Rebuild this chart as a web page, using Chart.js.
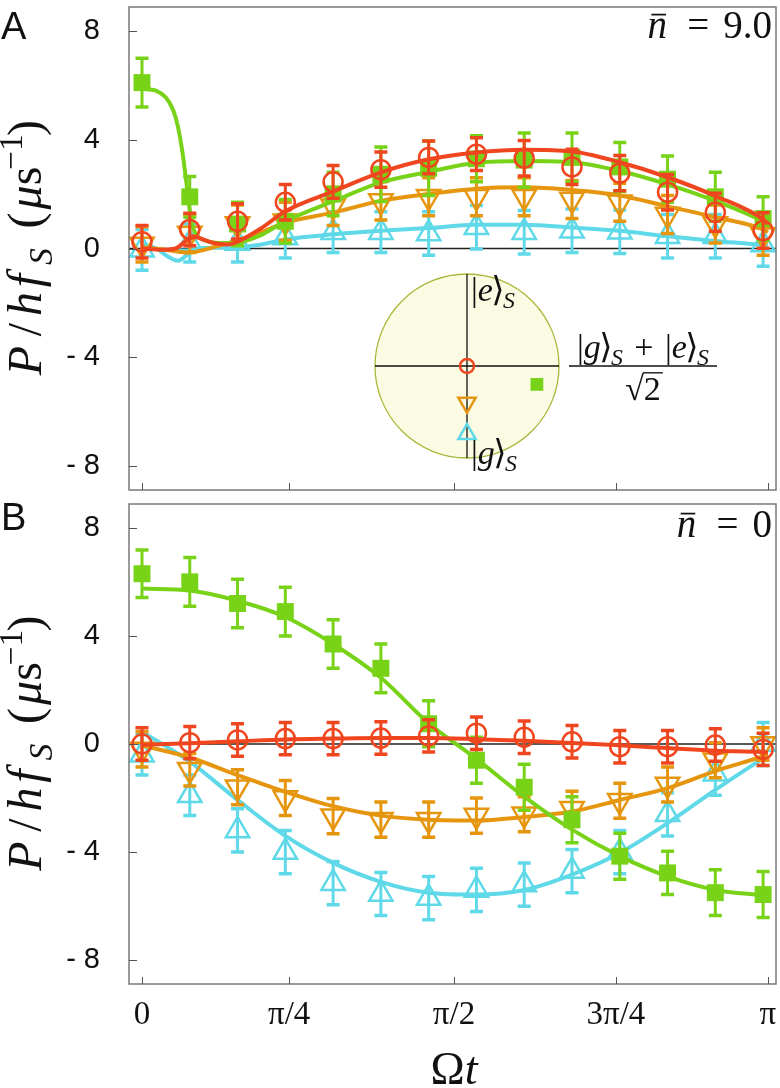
<!DOCTYPE html>
<html>
<head>
<meta charset="utf-8">
<script src="https://cdn.jsdelivr.net/npm/chart.js@4.4.1/dist/chart.umd.min.js"></script>
<style>
  html, body { margin: 0; padding: 0; background: #fff; }
  #wrap { position: relative; width: 780px; height: 1088px; overflow: hidden; }
  canvas { position: absolute; }
</style>
</head>
<body>
<div id="wrap">
  <canvas id="panelA" width="780" height="500" style="left:0;top:0"></canvas>
  <canvas id="panelB" width="780" height="588" style="left:0;top:500px"></canvas>
  <canvas id="inset" width="370" height="228" style="left:360px;top:260px"></canvas>
</div>
<script>
// measured points (index of the time step) and axis ticks
const pointX = [0, 1, 2, 3, 4, 5, 6, 7, 8, 9, 10, 11, 12, 13];
const xTickPos = [0, 3.08, 6.53, 9.92, 13.1];
const xTickLabels = ['0', 'π/4', 'π/2', '3π/4', 'π'];
const yTicks = [-8, -4, 0, 4, 8];

// panel A, n = 9.0
const aGreen = [6.1, 1.9, 0.9, 1.0, 2.0, 2.73, 2.95, 3.3, 3.25, 3.35, 3.0, 2.55, 1.9, 1.1];
const aGreenErr = [0.9, 0.75, 0.8, 0.8, 0.8, 1.0, 1.0, 0.85, 1.0, 0.9, 0.9, 0.85, 0.9, 0.8];
const aRed = [0.25, 0.7, 1.0, 1.7, 2.45, 2.9, 3.35, 3.47, 3.32, 3.0, 2.77, 2.07, 1.33, 0.66];
const aRedErr = [0.6, 0.6, 0.65, 0.65, 0.6, 0.65, 0.6, 0.6, 0.65, 0.65, 0.65, 0.65, 0.7, 0.65];
const aOrange = [0.15, 0.55, 0.9, 1.0, 1.55, 1.75, 1.9, 1.9, 1.9, 1.8, 1.7, 1.25, 0.9, 0.5];
const aOrangeErr = [0.65, 0.7, 0.7, 0.7, 0.7, 0.7, 0.7, 0.7, 0.7, 0.7, 0.7, 0.7, 0.7, 0.75];
const aCyan = [-0.05, 0.2, 0.2, 0.4, 0.6, 0.6, 0.55, 0.78, 0.6, 0.65, 0.62, 0.45, 0.45, 0.15];
const aCyanErr = [0.75, 0.7, 0.7, 0.75, 0.75, 0.75, 0.8, 0.8, 0.8, 0.8, 0.8, 0.8, 0.8, 0.8];

const aGreenFitX = [0, 0.3, 0.5, 0.65, 0.75, 0.85, 0.93, 1.0, 1.08, 1.2, 1.4, 1.7, 2, 2.5, 3, 4, 5, 6, 7, 8, 9, 10, 11, 12, 13, 13.1];
const aGreenFit = [5.87, 5.8, 5.55, 5.1, 4.5, 3.5, 2.4, 1.4, 0.7, 0.4, 0.25, 0.2, 0.22, 0.5, 1.0, 1.73, 2.43, 2.82, 3.15, 3.22, 3.17, 2.85, 2.36, 1.75, 1.0, 0.9];
const aRedFitX = [0, 0.4, 0.7, 0.9, 1.05, 1.25, 1.5, 1.8, 2, 2.5, 3, 4, 5, 6, 7, 8, 9, 10, 11, 12, 13, 13.1];
const aRedFit = [0, -0.05, 0.0, 0.25, 0.45, 0.35, 0.2, 0.15, 0.25, 0.75, 1.37, 2.1, 2.8, 3.28, 3.53, 3.63, 3.57, 3.17, 2.62, 1.93, 1.07, 0.9];
const aOrangeFitX = [0, 0.5, 1, 1.3, 1.6, 2, 2.5, 3, 4, 5, 6, 7, 8, 9, 10, 11, 12, 13, 13.1];
const aOrangeFit = [0.05, -0.05, -0.15, -0.05, 0.1, 0.3, 0.6, 0.95, 1.32, 1.75, 2.0, 2.2, 2.25, 2.15, 1.95, 1.55, 1.15, 0.7, 0.6];
const aCyanFitX = [0, 0.3, 0.55, 0.75, 0.9, 1.05, 1.3, 2, 2.5, 3, 4, 5, 6, 7, 8, 9, 10, 11, 12, 13, 13.1];
const aCyanFit = [0.15, 0.0, -0.3, -0.45, -0.3, -0.05, 0.02, 0.05, 0.15, 0.33, 0.52, 0.65, 0.75, 0.87, 0.87, 0.77, 0.65, 0.45, 0.28, 0.12, 0.1];

// panel B, n = 0
const bGreen = [6.3, 6.0, 5.2, 4.9, 3.7, 2.8, 0.75, -0.6, -1.6, -2.8, -4.15, -4.77, -5.5, -5.57];
const bGreenErr = [0.88, 0.9, 0.9, 0.9, 0.9, 0.9, 0.85, 0.85, 0.85, 0.85, 0.85, 0.8, 0.85, 0.85];
const bRed = [0, 0.05, 0.15, 0.2, 0.2, 0.22, 0.3, 0.4, 0.25, 0.08, -0.1, -0.1, -0.04, -0.2];
const bRedErr = [0.6, 0.6, 0.6, 0.6, 0.6, 0.6, 0.6, 0.6, 0.6, 0.6, 0.6, 0.6, 0.6, 0.6];
const bOrange = [-0.2, -0.95, -1.6, -2.0, -2.67, -2.8, -2.8, -2.65, -2.6, -2.4, -2.1, -1.5, -0.6, 0.0];
const bOrangeErr = [0.65, 0.6, 0.65, 0.65, 0.65, 0.65, 0.65, 0.65, 0.65, 0.65, 0.65, 0.65, 0.65, 0.6];
const bCyan = [-0.4, -1.9, -3.2, -4.0, -5.15, -5.55, -5.7, -5.4, -5.2, -4.7, -4.0, -2.6, -1.1, 0.0];
const bCyanErr = [0.75, 0.75, 0.8, 0.8, 0.8, 0.8, 0.8, 0.8, 0.8, 0.8, 0.8, 0.8, 0.8, 0.8];

const bFitX = [0, 1, 2, 3, 4, 5, 6, 7, 8, 9, 10, 11, 12, 13, 13.1];
const bGreenFit = [5.75, 5.68, 5.3, 4.7, 3.7, 2.45, 0.77, -0.55, -1.95, -3.17, -4.15, -4.9, -5.4, -5.6, -5.62];
const bRedFit = [-0.03, 0.03, 0.1, 0.17, 0.2, 0.22, 0.22, 0.18, 0.12, 0.04, -0.05, -0.15, -0.25, -0.3, -0.32];
const bOrangeFit = [-0.05, -0.5, -1.15, -1.77, -2.3, -2.65, -2.8, -2.83, -2.7, -2.5, -2.07, -1.63, -1.0, -0.45, -0.38];
const bCyanFit = [0.45, -0.65, -2.07, -3.4, -4.4, -5.1, -5.5, -5.57, -5.4, -4.83, -4.03, -2.93, -1.7, -0.52, -0.4];

// inset: state positions (red, green, orange, cyan)
const insetX = [0, 0.76, 0, 0];
const insetY = [0, -0.2, -0.4, -0.74];

const GREEN = '#78d318';
const RED = '#f0461f';
const ORANGE = '#e6960e';
const CYAN = '#5fd9e8';

const X_MIN = -0.272, X_MAX = 13.27;
const Y_MIN = -8.88, Y_MAX = 8.88;
const SERIF = '"Liberation Serif", "DejaVu Serif", serif';

function pts(xs, ys) { return xs.map((x, i) => ({ x, y: ys[i] })); }

function markers(color, style, ys, errs, filled, radius, rot) {
    return {
        data: pts(pointX, ys),
        showLine: false,
        pointStyle: style,
        pointRadius: radius,
        pointRotation: rot || 0,
        pointBorderColor: color,
        pointBackgroundColor: filled ? color : 'rgba(0,0,0,0)',
        pointBorderWidth: filled ? 0 : 2.5,
        errorBars: errs,
        clip: false,
    };
}

function fit(color, xs, ys) {
    return {
        data: pts(xs, ys),
        borderColor: color,
        borderWidth: 4,
        pointRadius: 0,
        cubicInterpolationMode: 'monotone',
        fill: false,
    };
}

// draws text with italic / sub / sup parts, like the math labels.
// adv = width of the slot for a part (glyph centered in it)
function mathText(ctx, parts, x, y, size, align) {
    let w = 0;
    const items = parts.map(p => {
        const s = (p.sub || p.sup) ? size * 0.7 : size;
        const font = (p.it ? 'italic ' : '') + s + 'px ' + SERIF;
        ctx.font = font;
        const tw = ctx.measureText(p.t).width;
        const slot = p.adv != null ? p.adv : tw;
        const it = { p, font, tw, dx: w + (slot - tw) / 2 };
        w += slot;
        return it;
    });
    const x0 = align === 'center' ? x - w / 2 : align === 'right' ? x - w : x;
    ctx.textAlign = 'left';
    ctx.textBaseline = 'alphabetic';
    items.forEach(it => {
        ctx.font = it.font;
        const dy = it.p.sub ? size * 0.22 : it.p.sup ? -size * 0.4 : 0;
        ctx.fillText(it.p.t, x0 + it.dx, y + dy);
        if (it.p.bar) {
            ctx.save();
            ctx.lineWidth = size * 0.045;
            ctx.strokeStyle = ctx.fillStyle;
            ctx.beginPath();
            ctx.moveTo(x0 + it.dx + it.tw * 0.2, y - size * 0.6);
            ctx.lineTo(x0 + it.dx + it.tw * 0.95, y - size * 0.6);
            ctx.stroke();
            ctx.restore();
        }
        if (it.p.root) {
            ctx.save();
            ctx.lineWidth = size * 0.04;
            ctx.strokeStyle = ctx.fillStyle;
            ctx.beginPath();
            ctx.moveTo(x0 + it.dx - 1, y - size * 0.8);
            ctx.lineTo(x0 + it.dx + it.tw + 2, y - size * 0.8);
            ctx.stroke();
            ctx.restore();
        }
    });
    return w;
}

const yTitleParts = [
    { t: 'P', it: true, adv: 35 }, { t: '/', adv: 27 }, { t: 'h', it: true, adv: 24 },
    { t: 'f', it: true, adv: 23 }, { t: 'S', it: true, sub: true, adv: 25 }, { t: '', adv: 13 },
    { t: '(', adv: 21 }, { t: 'μ', it: true, adv: 25 }, { t: 's', adv: 18 },
    { t: '−1', sup: true, adv: 30 }, { t: ')', adv: 18 }
];

function ket(s, size) {
    return [{ t: '|', adv: size * 0.2 }, { t: s, it: true }, { t: '⟩', adv: size * 0.3 },
            { t: 'S', it: true, sub: true }];
}

const errorBarPlugin = {
    id: 'errorBars',
    beforeDatasetDraw(chart, args) {
        const ds = chart.data.datasets[args.index];
        if (!ds.errorBars) return;
        const xs = chart.scales.x, ys = chart.scales.y, ctx = chart.ctx;
        ctx.save();
        ctx.strokeStyle = ds.pointBorderColor;
        ds.data.forEach((p, i) => {
            const e = ds.errorBars[i];
            const px = xs.getPixelForValue(p.x);
            const top = ys.getPixelForValue(p.y + e);
            const bot = ys.getPixelForValue(p.y - e);
            ctx.lineWidth = 3;
            ctx.beginPath();
            ctx.moveTo(px, top); ctx.lineTo(px, bot);
            ctx.stroke();
            ctx.lineWidth = 3.5;
            ctx.beginPath();
            ctx.moveTo(px - 6.5, top); ctx.lineTo(px + 6.5, top);
            ctx.moveTo(px - 6.5, bot); ctx.lineTo(px + 6.5, bot);
            ctx.stroke();
        });
        ctx.restore();
    }
};

function framePlugin(letter, letterY, nValue, nY, withXTitle) {
    return {
        id: 'frame',
        beforeDatasetsDraw(chart) {
            const { ctx, chartArea: a } = chart;
            const y0 = chart.scales.y.getPixelForValue(0);
            ctx.save();
            ctx.strokeStyle = '#222';
            ctx.lineWidth = 1.5;
            ctx.beginPath();
            ctx.moveTo(a.left, y0); ctx.lineTo(a.right, y0);
            ctx.stroke();
            ctx.restore();
        },
        afterDraw(chart) {
            const { ctx, chartArea: a } = chart;
            const xs = chart.scales.x, ys = chart.scales.y;
            ctx.save();
            ctx.strokeStyle = '#7a7a7a';
            ctx.lineWidth = 1.5;
            ctx.strokeRect(a.left, a.top, a.right - a.left, a.bottom - a.top);
            ctx.lineWidth = 1;
            ctx.strokeStyle = '#555';
            ctx.beginPath();
            yTicks.forEach(v => {
                const py = Math.round(ys.getPixelForValue(v)) + 0.5;
                ctx.moveTo(a.left, py); ctx.lineTo(a.left + 8, py);
            });
            xTickPos.forEach(v => {
                const px = Math.round(xs.getPixelForValue(v)) + 0.5;
                ctx.moveTo(px, a.bottom); ctx.lineTo(px, a.bottom - 7);
            });
            ctx.stroke();

            ctx.fillStyle = '#111';
            ctx.font = '38px "Liberation Sans", Arial, sans-serif';
            ctx.textAlign = 'left';
            ctx.textBaseline = 'alphabetic';
            ctx.fillText(letter, 1, letterY);

            mathText(ctx, [{ t: 'n', it: true, bar: true, adv: 32 }, { t: '=', adv: 50 }, { t: nValue }],
                     772, nY, 39, 'right');

            ctx.save();
            ctx.translate(28, (a.top + a.bottom) / 2);
            ctx.rotate(-Math.PI / 2);
            mathText(ctx, yTitleParts, 0, 13, 48, 'center');
            ctx.restore();

            if (withXTitle) {
                mathText(ctx, [{ t: 'Ω' }, { t: 't', it: true }], 454, 584, 46, 'center');
            }
            ctx.restore();
        }
    };
}

function panelOptions(showX) {
    const xAfterFit = s => {
        if (showX) s.height = 90;
        s.paddingLeft = 0; s.paddingRight = 0; s.paddingTop = 0; s.paddingBottom = 0;
    };
    return {
        responsive: false,
        animation: false,
        events: [],
        layout: {
            autoPadding: false,
            padding: showX ? { top: 4, right: 4, bottom: 14, left: 0 }
                           : { top: 7, right: 4, bottom: 10, left: 0 }
        },
        plugins: { legend: { display: false }, tooltip: { enabled: false } },
        scales: {
            x: {
                type: 'linear', min: X_MIN, max: X_MAX, display: showX,
                grid: { display: false, drawTicks: false },
                border: { display: false },
                afterBuildTicks: s => { s.ticks = xTickPos.map(v => ({ value: v })); },
                afterFit: xAfterFit,
                ticks: {
                    autoSkip: false, maxRotation: 0, padding: 12, color: '#111',
                    font: { family: SERIF, size: 33 },
                    callback: (v, i) => xTickLabels[i]
                }
            },
            y: {
                type: 'linear', min: Y_MIN, max: Y_MAX,
                grid: { display: false, drawTicks: false },
                border: { display: false },
                afterBuildTicks: s => { s.ticks = yTicks.map(v => ({ value: v })); },
                afterFit: s => {
                    s.width = 129;
                    s.paddingTop = 0; s.paddingBottom = 0; s.paddingLeft = 0; s.paddingRight = 0;
                },
                ticks: {
                    padding: 29, color: '#111',
                    font: { family: '"Liberation Sans", Arial, sans-serif', size: 29, lineHeight: 0.2 },
                    callback: v => v < 0 ? '- ' + Math.abs(v) : String(v)
                }
            }
        }
    };
}

// panel A
new Chart(document.getElementById('panelA'), {
    type: 'line',
    data: {
        datasets: [
            markers(RED, 'circle', aRed, aRedErr, false, 9.5),
            fit(RED, aRedFitX, aRedFit),
            markers(GREEN, 'rect', aGreen, aGreenErr, true, 12),
            fit(GREEN, aGreenFitX, aGreenFit),
            markers(ORANGE, 'triangle', aOrange, aOrangeErr, false, 13.5, 180),
            fit(ORANGE, aOrangeFitX, aOrangeFit),
            markers(CYAN, 'triangle', aCyan, aCyanErr, false, 13.5),
            fit(CYAN, aCyanFitX, aCyanFit),
        ]
    },
    options: panelOptions(false),
    plugins: [errorBarPlugin, framePlugin('A', 39, '9.0', 38, false)]
});

// panel B
new Chart(document.getElementById('panelB'), {
    type: 'line',
    data: {
        datasets: [
            markers(RED, 'circle', bRed, bRedErr, false, 9.5),
            fit(RED, bFitX, bRedFit),
            markers(GREEN, 'rect', bGreen, bGreenErr, true, 12),
            fit(GREEN, bFitX, bGreenFit),
            markers(ORANGE, 'triangle', bOrange, bOrangeErr, false, 13.5, 180),
            fit(ORANGE, bFitX, bOrangeFit),
            markers(CYAN, 'triangle', bCyan, bCyanErr, false, 13.5),
            fit(CYAN, bFitX, bCyanFit),
        ]
    },
    options: panelOptions(true),
    plugins: [errorBarPlugin, framePlugin('B', 30, '0', 37, true)]
});

// inset with the state picture
const insetPlugin = {
    id: 'insetCircle',
    beforeDatasetsDraw(chart) {
        const ctx = chart.ctx, xs = chart.scales.x, ys = chart.scales.y;
        const cx = xs.getPixelForValue(0), cy = ys.getPixelForValue(0);
        const r = xs.getPixelForValue(1) - cx;
        ctx.save();
        ctx.beginPath();
        ctx.arc(cx, cy, r, 0, Math.PI * 2);
        ctx.fillStyle = '#fbfbe3';
        ctx.fill();
        ctx.strokeStyle = '#aab83a';
        ctx.lineWidth = 1.3;
        ctx.stroke();
        ctx.strokeStyle = '#111';
        ctx.lineWidth = 1.3;
        ctx.beginPath();
        ctx.moveTo(cx - r, cy); ctx.lineTo(cx + r, cy);
        ctx.moveTo(cx, cy - r); ctx.lineTo(cx, cy + r);
        ctx.stroke();
        ctx.restore();
    },
    afterDraw(chart) {
        const ctx = chart.ctx, xs = chart.scales.x, ys = chart.scales.y;
        const cy = ys.getPixelForValue(0);
        const cx = xs.getPixelForValue(0);
        const fx = xs.getPixelForValue(1) + 10;
        ctx.save();
        ctx.fillStyle = '#111';
        mathText(ctx, ket('e', 34), cx + 4, ys.getPixelForValue(1) + 27, 34, 'left');
        mathText(ctx, ket('g', 34), cx + 4, ys.getPixelForValue(-1) + 6, 34, 'left');
        const num = ket('g', 34).concat([{ t: '+', adv: 42 }], ket('e', 34));
        mathText(ctx, num, fx + 74, cy - 8, 34, 'center');
        ctx.strokeStyle = '#111';
        ctx.lineWidth = 1.4;
        ctx.beginPath();
        ctx.moveTo(fx, cy); ctx.lineTo(fx + 148, cy);
        ctx.stroke();
        ctx.font = '34px ' + SERIF;
        const rw = ctx.measureText('√').width;
        const tw = ctx.measureText('2').width;
        const sx = fx + 74 - (rw + tw) / 2;
        ctx.fillText('√', sx, cy + 34);
        mathText(ctx, [{ t: '2', root: true }], sx + rw, cy + 34, 34, 'left');
        ctx.restore();
    }
};

new Chart(document.getElementById('inset'), {
    type: 'scatter',
    data: {
        datasets: [
            { data: [{ x: insetX[0], y: insetY[0] }], pointStyle: 'circle', pointRadius: 7, pointBorderColor: RED, pointBackgroundColor: 'rgba(0,0,0,0)', pointBorderWidth: 2.5, clip: false },
            { data: [{ x: insetX[1], y: insetY[1] }], pointStyle: 'rect', pointRadius: 9, pointBorderColor: GREEN, pointBackgroundColor: GREEN, pointBorderWidth: 0, clip: false },
            { data: [{ x: insetX[2], y: insetY[2] }], pointStyle: 'triangle', pointRotation: 180, pointRadius: 10, pointBorderColor: ORANGE, pointBackgroundColor: 'rgba(0,0,0,0)', pointBorderWidth: 2.5, clip: false },
            { data: [{ x: insetX[3], y: insetY[3] }], pointStyle: 'triangle', pointRadius: 10, pointBorderColor: CYAN, pointBackgroundColor: 'rgba(0,0,0,0)', pointBorderWidth: 2.5, clip: false },
        ]
    },
    options: {
        responsive: false,
        animation: false,
        events: [],
        layout: { autoPadding: false, padding: { left: 15, top: 14, right: 171, bottom: 30 } },
        plugins: { legend: { display: false }, tooltip: { enabled: false } },
        scales: {
            x: { display: false, min: -1, max: 1 },
            y: { display: false, min: -1, max: 1 }
        }
    },
    plugins: [insetPlugin]
});
</script>
</body>
</html>
